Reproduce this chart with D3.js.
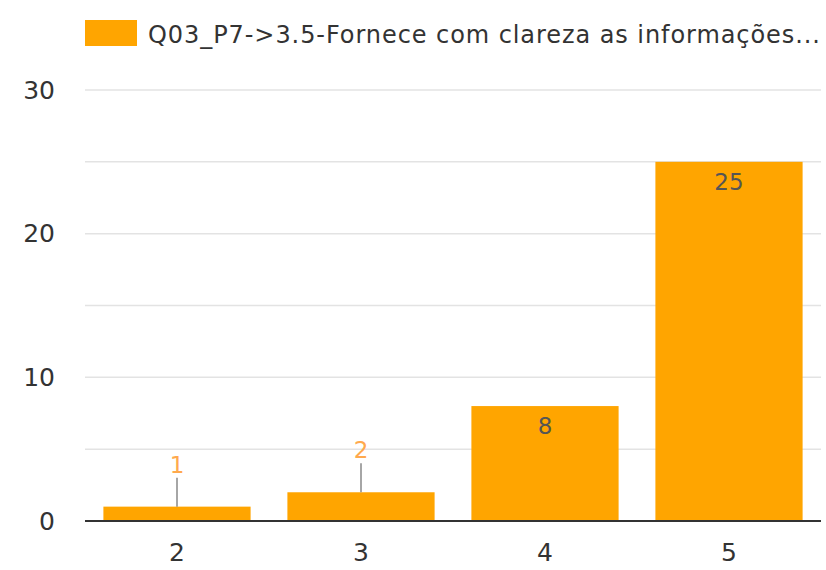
<!DOCTYPE html>
<html>
<head>
<meta charset="utf-8">
<script src="https://cdn.jsdelivr.net/npm/d3@7"></script>
<style>
  body { margin: 0; background: #fff; }
  text { font-family: "DejaVu Sans", "Open Sans", sans-serif; }
</style>
</head>
<body>
<div class="canvas"></div>
<script>
// data
const categories = ["2", "3", "4", "5"];
const values = [1, 2, 8, 25];
const yTicks = [0, 10, 20, 30];
const seriesName = "Q03_P7->3.5-Fornece com clareza as informações...";

const width = 826, height = 570;
const margin = { top: 90, right: 5, bottom: 49, left: 85 };
const barColor = "#ffa500";

const svg = d3.select(".canvas").append("svg")
    .attr("width", width)
    .attr("height", height);

const x = d3.scaleBand()
    .domain(categories)
    .range([margin.left, width - margin.right])
    .paddingInner(0.2)
    .paddingOuter(0.1);

const y = d3.scaleLinear()
    .domain([0, 30])
    .range([height - margin.bottom, margin.top]);

// grid every 5
const grid = svg.append("g");
grid.selectAll("line")
    .data(d3.range(5, 31, 5))
    .join("line")
    .attr("x1", margin.left)
    .attr("x2", width - margin.right)
    .attr("y1", d => y(d))
    .attr("y2", d => y(d))
    .attr("stroke", "#e3e3e3")
    .attr("stroke-width", 1.5);

// y axis labels
const yAxis = svg.append("g")
    .attr("transform", `translate(${margin.left},0)`)
    .call(d3.axisLeft(y).tickValues(yTicks).tickSize(0).tickPadding(30));
yAxis.select(".domain").remove();
yAxis.selectAll("text")
    .attr("font-size", "25px")
    .attr("fill", "#333");

// bars
const data = categories.map((c, i) => ({ cat: c, val: values[i] }));

svg.append("g").selectAll("rect")
    .data(data)
    .join("rect")
    .attr("x", d => x(d.cat))
    .attr("y", d => y(d.val))
    .attr("width", x.bandwidth())
    .attr("height", d => y(0) - y(d.val))
    .attr("fill", barColor);

// value labels: inside for tall bars, above with a leader line for short ones
const inside = d => (y(0) - y(d.val)) > 40;

const labels = svg.append("g");
labels.selectAll("line")
    .data(data.filter(d => !inside(d)))
    .join("line")
    .attr("x1", d => x(d.cat) + x.bandwidth() / 2)
    .attr("x2", d => x(d.cat) + x.bandwidth() / 2)
    .attr("y1", d => y(d.val))
    .attr("y2", d => y(d.val) - 29)
    .attr("stroke", "#888")
    .attr("stroke-width", 1.5);

labels.selectAll("text")
    .data(data)
    .join("text")
    .attr("x", d => x(d.cat) + x.bandwidth() / 2)
    .attr("y", d => inside(d) ? y(d.val) + 28 : y(d.val) - 34)
    .attr("text-anchor", "middle")
    .attr("font-size", "23px")
    .attr("fill", d => inside(d) ? "#555" : "#ffa94d")
    .text(d => d.val);

// x axis
const xAxis = svg.append("g")
    .attr("transform", `translate(0,${y(0)})`)
    .call(d3.axisBottom(x).tickSize(0).tickPadding(22));
xAxis.select(".domain")
    .attr("stroke", "#333")
    .attr("stroke-width", 2)
    .attr("d", `M${margin.left},0H${width - margin.right}`);
xAxis.selectAll("text")
    .attr("font-size", "25px")
    .attr("fill", "#333");

// legend
const legend = svg.append("g");
legend.append("rect")
    .attr("x", 85)
    .attr("y", 20)
    .attr("width", 52)
    .attr("height", 26)
    .attr("fill", barColor);
legend.append("text")
    .attr("x", 148)
    .attr("y", 43)
    .attr("font-size", "24px")
    .attr("fill", "#333")
    .attr("textLength", 672)
    .attr("lengthAdjust", "spacing")
    .text(seriesName);
</script>
</body>
</html>
